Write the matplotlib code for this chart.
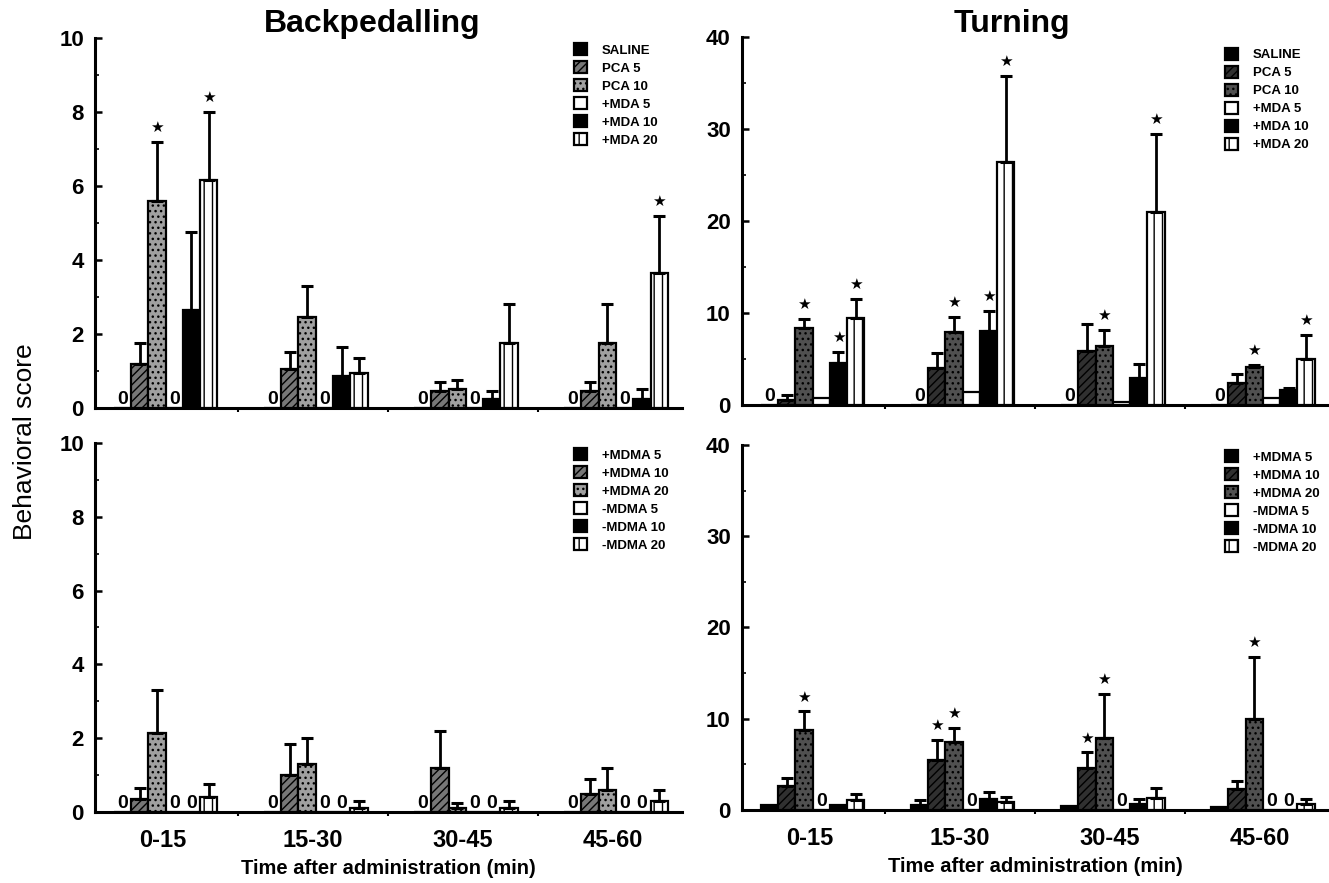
###LIBRARY IMPORT
import numpy as np
import matplotlib
matplotlib.use('Agg')
import matplotlib.pyplot as plt
from matplotlib.ticker import MultipleLocator

plt.rcParams['font.family'] = ['Liberation Sans', 'DejaVu Sans']
plt.rcParams['hatch.linewidth'] = 1.0

#---------------------------------------------------------------------------------------------------------------------------
###DATA
groups = ['0-15', '15-30', '30-45', '45-60']
mda_labels = ['SALINE', 'PCA 5', 'PCA 10', '+MDA 5', '+MDA 10', '+MDA 20']
mdma_labels = ['+MDMA 5', '+MDMA 10', '+MDMA 20', '-MDMA 5', '-MDMA 10', '-MDMA 20']

##Backpedalling, MDA series (mean, top of error bar)
bp_mda_mean = [[0, 0, 0, 0],
               [1.2, 1.05, 0.45, 0.45],
               [5.6, 2.45, 0.5, 1.75],
               [0, 0, 0, 0],
               [2.65, 0.85, 0.25, 0.25],
               [6.15, 0.95, 1.75, 3.65]]
bp_mda_top = [[0, 0, 0, 0],
              [1.75, 1.5, 0.7, 0.7],
              [7.2, 3.3, 0.75, 2.8],
              [0, 0, 0, 0],
              [4.75, 1.65, 0.45, 0.5],
              [8.0, 1.35, 2.8, 5.2]]
bp_mda_stars = [(2, 0), (5, 0), (5, 3)]

##Turning, MDA series
tu_mda_mean = [[0, 0, 0, 0],
               [0.6, 4.0, 5.9, 2.4],
               [8.4, 7.9, 6.4, 4.1],
               [0.8, 1.4, 0.3, 0.8],
               [4.6, 8.0, 2.9, 1.6],
               [9.5, 26.4, 21.0, 5.0]]
tu_mda_top = [[0, 0, 0, 0],
              [1.1, 5.7, 8.8, 3.4],
              [9.4, 9.6, 8.2, 4.4],
              [0.8, 1.4, 0.3, 0.8],
              [5.8, 10.2, 4.5, 1.9],
              [11.5, 35.8, 29.5, 7.6]]
tu_mda_stars = [(2, 0), (4, 0), (5, 0), (2, 1), (4, 1), (5, 1), (2, 2), (5, 2), (2, 3), (5, 3)]

##Backpedalling, MDMA series
bp_mdma_mean = [[0, 0, 0, 0],
                [0.35, 1.0, 1.2, 0.5],
                [2.15, 1.3, 0.1, 0.6],
                [0, 0, 0, 0],
                [0, 0, 0, 0],
                [0.4, 0.1, 0.1, 0.3]]
bp_mdma_top = [[0, 0, 0, 0],
               [0.65, 1.85, 2.2, 0.9],
               [3.3, 2.0, 0.25, 1.2],
               [0, 0, 0, 0],
               [0, 0, 0, 0],
               [0.75, 0.3, 0.3, 0.6]]
bp_mdma_stars = []

##Turning, MDMA series
tu_mdma_mean = [[0.5, 0.6, 0.4, 0.3],
                [2.6, 5.5, 4.6, 2.3],
                [8.8, 7.5, 7.9, 10.0],
                [0, 0, 0, 0],
                [0.5, 1.2, 0.7, 0],
                [1.1, 0.9, 1.3, 0.7]]
tu_mdma_top = [[0.5, 1.1, 0.4, 0.3],
               [3.5, 7.7, 6.3, 3.2],
               [10.8, 9.0, 12.7, 16.8],
               [0, 0, 0, 0],
               [0.5, 2.0, 1.2, 0],
               [1.7, 1.4, 2.4, 1.2]]
tu_mdma_stars = [(2, 0), (1, 1), (2, 1), (1, 2), (2, 2), (2, 3)]

#---------------------------------------------------------------------------------------------------------------------------
###Bar styles for the 6 series (face, hatch) - light version for backpedalling, darker for turning
styles_light = [('black', ''), ('#777777', '////'), ('#a0a0a0', '...'),
                ('white', ''), ('black', ''), ('white', '||')]
styles_dark = [('black', ''), ('#303030', '////'), ('#505050', '...'),
               ('white', ''), ('black', ''), ('white', '||')]

W = 0.115

def draw_panel(ax, mean, top, stars, labels, styles, ymax, major, minor, xlabels):
    x = np.arange(len(groups))
    for i in range(len(labels)):
        face, hatch = styles[i]
        m = np.array(mean[i], dtype=float)
        t = np.array(top[i], dtype=float)
        pos = x + (i - 2.5) * W + 0.02
        ax.bar(pos, m, width=W, color=face, edgecolor='black', hatch=hatch,
               linewidth=1.6, label=labels[i], zorder=3)
        ###upper error bars only
        up = t - m
        has = up > 0
        if has.any():
            ax.errorbar(pos[has], m[has], yerr=[np.zeros(has.sum()), up[has]], fmt='none',
                        ecolor='black', elinewidth=2, capsize=4, capthick=2.2, zorder=4)
        ###zero values written as "0"
        for p, v in zip(pos, m):
            if v == 0:
                ax.text(p, 0, '0', ha='center', va='bottom', fontsize=14, fontweight='bold', zorder=5)
    for i, g in stars:
        ax.annotate('★', (g + (i - 2.5) * W + 0.02, max(top[i][g], mean[i][g])), xytext=(0, 5),
                    textcoords='offset points', ha='center', va='bottom', fontsize=11,
                    family='DejaVu Sans')

    ax.set_xlim(-0.45, 3.46)
    ax.set_ylim(0, ymax)
    ax.yaxis.set_major_locator(MultipleLocator(major))
    ax.yaxis.set_minor_locator(MultipleLocator(minor))
    ax.set_xticks(x)
    ax.set_xticks(x[:-1] + 0.5, minor=True)
    if xlabels:
        ax.set_xticklabels(groups, fontsize=17, fontweight='bold')
        ax.set_xlabel('Time after administration (min)', fontsize=14.5, fontweight='bold', labelpad=5)
    else:
        ax.set_xticklabels([])
    ax.tick_params(axis='x', which='major', length=0, pad=12)
    ax.tick_params(axis='x', which='minor', length=3, width=1.5, direction='out')
    ax.tick_params(axis='y', which='major', length=5, width=1.8, direction='in', labelsize=16, pad=8)
    ax.tick_params(axis='y', which='minor', length=3, width=1.2, direction='in')
    for lab in ax.get_yticklabels():
        lab.set_fontweight('bold')
    for s in ['top', 'right']:
        ax.spines[s].set_visible(False)
    for s in ['left', 'bottom']:
        ax.spines[s].set_linewidth(2.2)
    ax.patch.set_alpha(0)

def add_legend(ax, xanchor, yanchor=1.0):
    leg = ax.legend(loc='upper left', bbox_to_anchor=(xanchor, yanchor), frameon=False,
                    fontsize=9.5, handlelength=1.0, handleheight=1.0, handletextpad=1.1,
                    labelspacing=0.35, borderaxespad=0)
    for t in leg.get_texts():
        t.set_fontweight('bold')

#---------------------------------------------------------------------------------------------------------------------------
fig = plt.figure(figsize=(13.29, 8.83), dpi=100)

ax_tl = fig.add_axes([0.0715, 0.538, 0.4417, 0.419])
ax_bl = fig.add_axes([0.0715, 0.0804, 0.4417, 0.418])
ax_tr = fig.add_axes([0.5583, 0.5413, 0.4417, 0.4168])
ax_br = fig.add_axes([0.5583, 0.0827, 0.4417, 0.4134])

draw_panel(ax_tl, bp_mda_mean, bp_mda_top, bp_mda_stars, mda_labels, styles_light, 10, 2, 1, False)
draw_panel(ax_bl, bp_mdma_mean, bp_mdma_top, bp_mdma_stars, mdma_labels, styles_light, 10, 2, 1, True)
draw_panel(ax_tr, tu_mda_mean, tu_mda_top, tu_mda_stars, mda_labels, styles_dark, 40, 10, 5, False)
draw_panel(ax_br, tu_mdma_mean, tu_mdma_top, tu_mdma_stars, mdma_labels, styles_dark, 40, 10, 5, True)

add_legend(ax_tl, 0.807)
add_legend(ax_bl, 0.807)
add_legend(ax_tr, 0.814, 0.985)
add_legend(ax_br, 0.814)

###Titles and shared y label
fig.text(372 / 1329, 1 - 24 / 883, 'Backpedalling', ha='center', va='center', fontsize=23, fontweight='bold')
fig.text(1012 / 1329, 1 - 24 / 883, 'Turning', ha='center', va='center', fontsize=23, fontweight='bold')
fig.text(25 / 1329, 0.5, 'Behavioral score', ha='center', va='center', rotation=90, fontsize=19)

fig.savefig('out.png', dpi=100)
